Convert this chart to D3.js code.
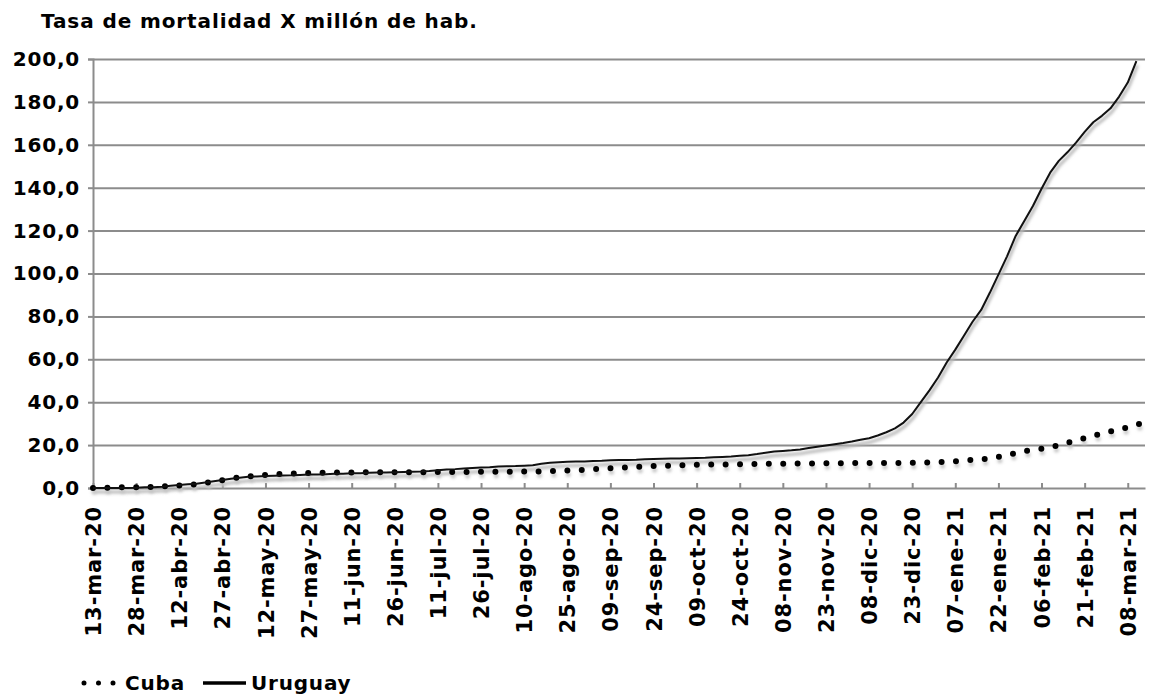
<!DOCTYPE html>
<html><head><meta charset="utf-8">
<script src="https://cdn.jsdelivr.net/npm/d3@7"></script>
<style>
body{margin:0;background:#fff}
svg{display:block}
text{font-family:"DejaVu Sans",Verdana,sans-serif;font-weight:bold;fill:#000}
</style>
</head><body><svg id="c" width="1156" height="695"></svg>
<script>
// ---------------- data ----------------
const chartTitle = "Tasa de mortalidad X millón de hab.";
const seriesNames = ["Cuba", "Uruguay"];
const startDate = "2020-03-13";

// Uruguay: one value every 3 days starting 13-mar-20
const uruguayStepDays = 3;
const uruguay = [
  0, 0, 0, 0, 0, 0.1, 0.3, 0.3, 0.6, 1.0,
  1.4, 1.7, 2.0, 2.6, 3.2, 3.7, 4.3, 4.8, 5.2, 5.4,
  5.6, 5.7, 5.8, 5.9, 6.1, 6.3, 6.3, 6.4, 6.6, 6.7,
  6.9, 6.9, 7.1, 7.2, 7.2, 7.4, 7.5, 7.6, 7.7, 7.9,
  8.3, 8.6, 8.8, 9.1, 9.3, 9.5, 9.7, 10.0, 10.1, 10.2,
  10.4, 10.6, 11.3, 11.8, 12.0, 12.2, 12.3, 12.4, 12.6, 12.7,
  12.9, 13.0, 13.1, 13.2, 13.4, 13.5, 13.6, 13.7, 13.8, 13.9,
  14.0, 14.1, 14.3, 14.5, 14.7, 15.0, 15.3, 15.8, 16.4, 17.0,
  17.3, 17.6, 18.0, 18.6, 19.2, 19.8, 20.4, 21.0, 21.7, 22.5,
  23.2, 24.5, 26.0, 27.8, 30.5, 34.5, 40.0, 45.5, 51.5, 58.5,
  64.5, 71.0, 77.5, 83.0, 91.0, 99.5, 108.0, 117.5, 124.5, 131.5,
  139.5, 147.0, 152.5, 156.5, 161.0, 166.0, 170.5, 173.5, 177.0, 182.5,
  189.0, 199.0
];

// Cuba: one value every 5 days starting 13-mar-20
const cubaStepDays = 5;
const cuba = [
  0, 0.1, 0.3, 0.3, 0.5, 0.8, 1.2, 1.6, 2.6, 3.6,
  4.8, 5.5, 6.1, 6.5, 6.8, 7.0, 7.1, 7.2, 7.2, 7.3,
  7.3, 7.4, 7.4, 7.4, 7.5, 7.5, 7.5, 7.6, 7.6, 7.6,
  7.7, 7.7, 7.9, 8.1, 8.4, 8.8, 9.2, 9.6, 9.9, 10.2,
  10.4, 10.6, 10.8, 10.9, 11.0, 11.1, 11.2, 11.3, 11.3, 11.4,
  11.4, 11.5, 11.5, 11.6, 11.6, 11.7, 11.7, 11.8, 11.9, 12.1,
  12.5, 13.0, 13.5, 14.5, 16.0, 17.4, 18.3, 19.6, 21.4, 23.2,
  25.0, 26.7, 28.3, 30.3
];

const xTickLabels = [
  "13-mar-20","28-mar-20","12-abr-20","27-abr-20","12-may-20","27-may-20",
  "11-jun-20","26-jun-20","11-jul-20","26-jul-20","10-ago-20","25-ago-20",
  "09-sep-20","24-sep-20","09-oct-20","24-oct-20","08-nov-20","23-nov-20",
  "08-dic-20","23-dic-20","07-ene-21","22-ene-21","06-feb-21","21-feb-21",
  "08-mar-21"
];
const yTicks = [0, 20, 40, 60, 80, 100, 120, 140, 160, 180, 200];
const yTickLabels = ["0,0","20,0","40,0","60,0","80,0","100,0","120,0","140,0","160,0","180,0","200,0"];
const monthIndex = {ene:0, feb:1, mar:2, abr:3, may:4, jun:5, jul:6, ago:7, sep:8, oct:9, nov:10, dic:11};

// ---------------- chart ----------------
const svg = d3.select("#c");
const start = new Date(startDate + "T00:00:00Z");
const plot = {left: 93, right: 1145, top: 59, bottom: 488};

const x = d3.scaleUtc()
  .domain([start, d3.utcDay.offset(start, 366)])
  .range([plot.left, plot.right]);
const y = d3.scaleLinear().domain([0, 200]).range([plot.bottom, plot.top]);

const parseLabel = s => {
  const [d, m, yy] = s.split("-");
  return new Date(Date.UTC(2000 + +yy, monthIndex[m], +d));
};
const tickDates = xTickLabels.map(parseLabel);

const uruguayPts = uruguay.map((v, i) => ({date: d3.utcDay.offset(start, i * uruguayStepDays), v}));
const cubaPts = cuba.map((v, i) => ({date: d3.utcDay.offset(start, i * cubaStepDays), v}));

const defs = svg.append("defs");
defs.append("filter").attr("id", "sh").attr("x", "-5%").attr("y", "-20%").attr("width", "110%").attr("height", "140%")
  .append("feGaussianBlur").attr("stdDeviation", 1.6);

// title
svg.append("text").attr("x", 41).attr("y", 28).attr("font-size", 20)
  .attr("letter-spacing", 0.9).text(chartTitle);

// gridlines
const grid = d3.axisLeft(y).tickValues(yTicks.slice(1)).tickSize(-(plot.right - plot.left)).tickFormat("");
svg.append("g").attr("transform", `translate(${plot.left},0)`).call(grid)
  .call(g => g.select(".domain").remove())
  .call(g => g.selectAll("line").attr("stroke", "#8c8c8c").attr("stroke-width", 2));

// y axis
const yAxis = d3.axisLeft(y).tickValues(yTicks).tickSize(5).tickPadding(8)
  .tickFormat((d, i) => yTickLabels[i]);
svg.append("g").attr("transform", `translate(${plot.left},0)`).call(yAxis)
  .call(g => g.select(".domain").attr("stroke", "#8c8c8c").attr("stroke-width", 2))
  .call(g => g.selectAll(".tick line").attr("stroke", "#8c8c8c").attr("stroke-width", 2))
  .call(g => g.selectAll("text").attr("font-size", 20).attr("letter-spacing", 0.8)
    .attr("font-family", "DejaVu Sans").attr("font-weight", "bold").attr("fill", "#000"));

// x axis
const xAxis = d3.axisBottom(x).tickValues(tickDates).tickSize(-5).tickSizeOuter(0)
  .tickFormat((d, i) => xTickLabels[i]);
svg.append("g").attr("transform", `translate(0,${plot.bottom})`).call(xAxis)
  .call(g => g.select(".domain").attr("stroke", "#8c8c8c").attr("stroke-width", 2))
  .call(g => g.selectAll(".tick line").attr("stroke", "#8c8c8c").attr("stroke-width", 2))
  .call(g => g.selectAll("text")
    .attr("font-size", 21).attr("letter-spacing", 0.9)
    .attr("font-family", "DejaVu Sans").attr("font-weight", "bold").attr("fill", "#000")
    .attr("transform", "rotate(-90)").attr("text-anchor", "end")
    .attr("x", -18).attr("y", 0).attr("dy", "0.36em"));

// lines
const line = d3.line().x(d => x(d.date)).y(d => y(d.v));

// shadows
svg.append("path").datum(uruguayPts).attr("d", line).attr("fill", "none")
  .attr("stroke", "#b8b8b8").attr("stroke-width", 3).attr("transform", "translate(1,4)").attr("filter", "url(#sh)");
svg.append("path").datum(cubaPts).attr("d", line).attr("fill", "none")
  .attr("stroke", "#c4c4c4").attr("stroke-width", 5).attr("stroke-dasharray", "0 14.4").attr("stroke-linecap", "round")
  .attr("transform", "translate(1,4)").attr("filter", "url(#sh)");

svg.append("path").datum(cubaPts).attr("d", line).attr("fill", "none")
  .attr("stroke", "#000").attr("stroke-width", 6).attr("stroke-dasharray", "0 14.4").attr("stroke-linecap", "round");
svg.append("path").datum(uruguayPts).attr("d", line).attr("fill", "none")
  .attr("stroke", "#111").attr("stroke-width", 2).attr("stroke-linejoin", "round");

// legend
const lg = svg.append("g");
lg.append("line").attr("x1", 84).attr("x2", 115).attr("y1", 683).attr("y2", 683)
  .attr("stroke", "#000").attr("stroke-width", 5).attr("stroke-dasharray", "0 14.5").attr("stroke-linecap", "round");
lg.append("text").attr("x", 125).attr("y", 690).attr("font-size", 20).attr("letter-spacing", 0.8).text(seriesNames[0]);
lg.append("line").attr("x1", 203).attr("x2", 246).attr("y1", 683).attr("y2", 683)
  .attr("stroke", "#000").attr("stroke-width", 3.5);
lg.append("text").attr("x", 251).attr("y", 690).attr("font-size", 20).attr("letter-spacing", 0.8).text(seriesNames[1]);
</script>
</body></html>
